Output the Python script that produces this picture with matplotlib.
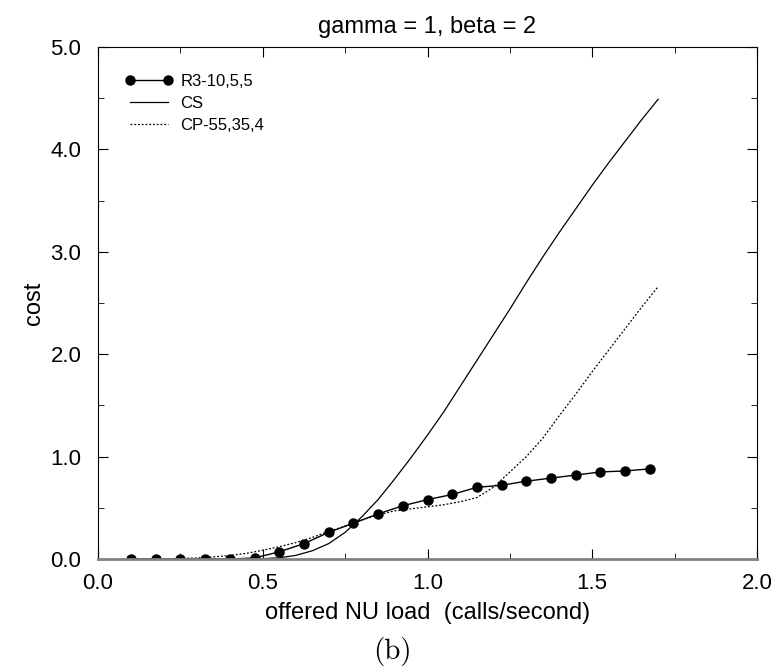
import numpy as np
import matplotlib.pyplot as plt
from matplotlib.ticker import MultipleLocator, FormatStrFormatter

plt.rcParams['font.family'] = ['Liberation Sans', 'DejaVu Sans']

# R3-10,5,5 (dotted markers)
r3_x = [0.1, 0.175, 0.25, 0.325, 0.4, 0.475, 0.55, 0.625, 0.7, 0.775, 0.85,
        0.925, 1.0, 1.075, 1.15, 1.225, 1.3, 1.375, 1.45, 1.525, 1.6, 1.675]
r3_y = [0.0, 0.0, 0.0, 0.0, 0.0, 0.01, 0.07, 0.15, 0.26, 0.35, 0.44,
        0.52, 0.58, 0.63, 0.70, 0.72, 0.76, 0.79, 0.82, 0.85, 0.86, 0.88]

# CS
cs_x = [0.1, 0.2, 0.3, 0.4, 0.45, 0.5, 0.55, 0.6, 0.65, 0.7, 0.75, 0.8, 0.85,
        0.9, 0.95, 1.0, 1.05, 1.1, 1.15, 1.2, 1.25, 1.3, 1.35, 1.4, 1.45,
        1.5, 1.55, 1.6, 1.65, 1.7]
cs_y = [0.0, 0.0, 0.0, 0.0, 0.0, 0.003, 0.012, 0.035, 0.08, 0.15, 0.26, 0.41, 0.58,
        0.78, 0.99, 1.21, 1.44, 1.69, 1.94, 2.19, 2.44, 2.70, 2.95, 3.19, 3.42,
        3.65, 3.87, 4.08, 4.29, 4.49]

# CP-55,35,4
cp_x = [0.1, 0.2, 0.3, 0.35, 0.4, 0.45, 0.5, 0.55, 0.6, 0.65, 0.7, 0.75, 0.8,
        0.85, 0.9, 0.95, 1.0, 1.05, 1.1, 1.15, 1.2, 1.25, 1.3, 1.35, 1.4,
        1.45, 1.5, 1.55, 1.6, 1.65, 1.7]
cp_y = [0.0, 0.0, 0.01, 0.02, 0.035, 0.055, 0.085, 0.12, 0.16, 0.21, 0.27, 0.32,
        0.38, 0.43, 0.47, 0.49, 0.51, 0.53, 0.56, 0.60, 0.70, 0.85, 1.0, 1.18,
        1.40, 1.61, 1.83, 2.04, 2.25, 2.46, 2.66]

fig = plt.figure(figsize=(7.77, 6.71), dpi=100)
ax = fig.add_axes([98 / 777, 1 - 559 / 671, (757 - 98) / 777, (559 - 47) / 671])

ax.plot(r3_x, r3_y, color='black', lw=1.0, marker='o', ms=6.5, label='R3-10,5,5')
ax.plot(cs_x, cs_y, color='black', lw=0.9, label='CS')
ax.plot(cp_x, cp_y, color='black', lw=0.9, ls=(0, (1.5, 1.5)), label='CP-55,35,4')

ax.set_xlim(0.0, 2.0)
ax.set_ylim(0.0, 5.0)
ax.xaxis.set_major_locator(MultipleLocator(0.5))
ax.xaxis.set_minor_locator(MultipleLocator(0.25))
ax.yaxis.set_major_locator(MultipleLocator(1.0))
ax.yaxis.set_minor_locator(MultipleLocator(0.5))
ax.xaxis.set_major_formatter(FormatStrFormatter('%.1f'))
ax.yaxis.set_major_formatter(FormatStrFormatter('%.1f'))
ax.tick_params(which='both', direction='in', top=True, right=True, labelsize=16)
ax.tick_params(which='major', length=7)
ax.tick_params(which='minor', length=4)
ax.tick_params(axis='x', pad=10)
ax.tick_params(axis='y', pad=12)
ax.spines['bottom'].set_color('gray')
ax.spines['bottom'].set_linewidth(2)

ax.set_xlabel('offered NU load  (calls/second)', fontsize=17, labelpad=6)
ax.set_ylabel('cost', fontsize=17, labelpad=4)
ax.set_title('gamma = 1, beta = 2', fontsize=17, pad=10)

ax.legend(loc='upper left', bbox_to_anchor=(0.0, 1.0), frameon=False,
          fontsize=12, numpoints=2, handlelength=2.9, handletextpad=0.45,
          labelspacing=0.42, borderaxespad=0.0,
          borderpad=1.6)

fig.text(392 / 777, 1 - 652 / 671, '(b)', ha='center', va='center', fontsize=21,
         family='cmr10')

fig.savefig('out.png', dpi=100)
